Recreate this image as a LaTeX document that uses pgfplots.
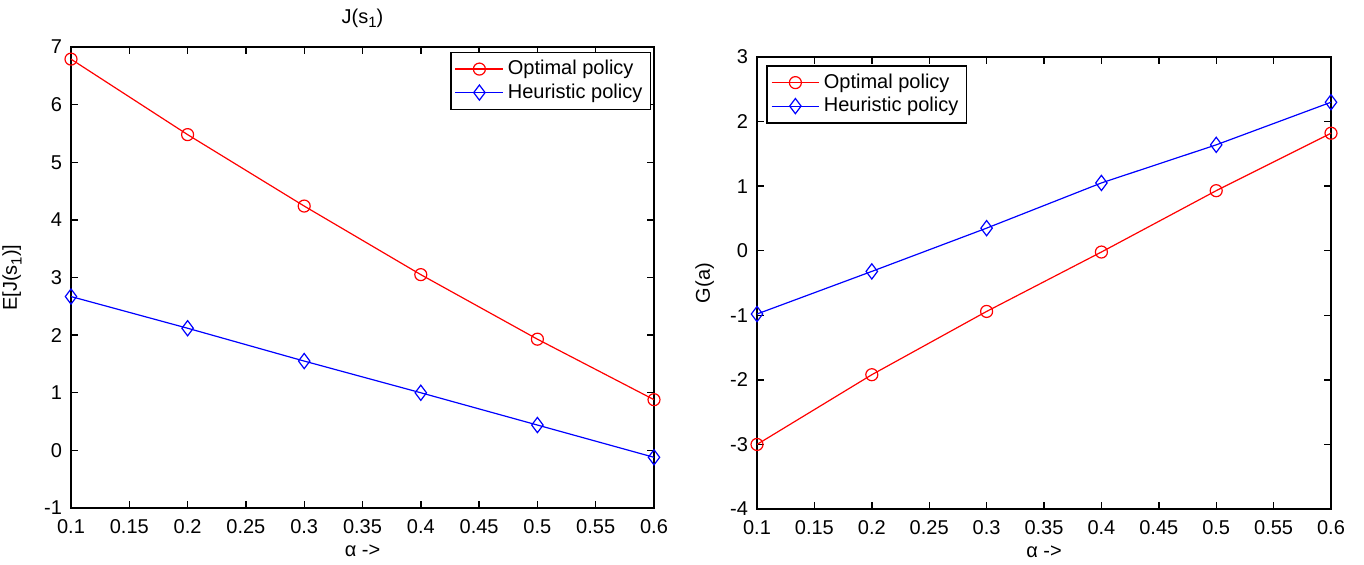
\documentclass[border=0pt]{standalone}
\usepackage{fontspec}
\setmainfont{Liberation Sans}
\usepackage{pgfplots}
\pgfplotsset{compat=1.18}

\newcommand{\sub}[1]{\raisebox{-0.45ex}{\fontsize{7.5}{8}\selectfont #1}}

\pgfplotsset{
  mstyle/.style={
    scale only axis,
    anchor=south west,
    xmin=0.1, xmax=0.6,
    xtick={0.1,0.15,...,0.6},
    tick align=inside,
    major tick length=3.5pt,
    axis line style={draw=black, line width=0.7pt},
    tick style={draw=black, line width=0.7pt},
    every tick label/.append style={font=\fontsize{10}{12}\selectfont},
    label style={font=\fontsize{10}{12}\selectfont},
    title style={font=\fontsize{10}{12}\selectfont},
    /pgf/number format/assume math mode=true,
    /pgf/number format/fixed,
    xticklabel style={/pgf/number format/precision=2, yshift=-2pt},
    yticklabel style={xshift=-1pt},
    xlabel={α ->},
    xlabel style={yshift=1pt},
    legend style={font=\fontsize{10}{12}\selectfont, draw=black, line width=0.7pt,
      inner sep=2pt, row sep=-1pt},
    legend cell align=left,
    legend image code/.code={
      \draw[mark repeat=2,mark phase=2,line width=0.6pt]
        plot coordinates {(0cm,0cm) (0.42cm,0cm) (0.84cm,0cm)};
    },
    clip=false,
  },
  opt/.style={color=red, line width=0.6pt, mark=o, mark size=3pt, mark options={line width=0.6pt}},
  heu/.style={color=blue, line width=0.6pt, mark=diamond, mark size=3.8pt, mark options={line width=0.6pt}},
}

\begin{document}
\begin{tikzpicture}
\path (0,0) rectangle (682pt,-279.5pt);

\begin{axis}[
  mstyle,
  at={(35.5pt,-254pt)},
  width=291.5pt, height=230.5pt,
  ymin=-1, ymax=7, ytick={-1,0,...,7},
  ylabel={E[J(s\sub{1})]},
  ylabel style={at={(axis description cs:-0.101,0.5)}, anchor=center, inner sep=0pt},
  title={J(s\sub{1})},
  legend style={at={(0.995,0.99)}, anchor=north east},
]
\addplot[opt] coordinates {
  (0.1,6.79) (0.2,5.48) (0.3,4.24) (0.4,3.05) (0.5,1.93) (0.6,0.88)
};
\addplot[heu] coordinates {
  (0.1,2.67) (0.2,2.12) (0.3,1.55) (0.4,1.0) (0.5,0.44) (0.6,-0.12)
};
\legend{Optimal policy, Heuristic policy}
\end{axis}

\begin{axis}[
  mstyle,
  at={(378.5pt,-254.5pt)},
  width=287pt, height=226pt,
  ymin=-4, ymax=3, ytick={-4,-3,...,3},
  ylabel={G(a)},
  ylabel style={at={(axis description cs:-0.091,0.5)}, anchor=center, inner sep=0pt},
  legend style={at={(0.016,0.982)}, anchor=north west},
]
\addplot[opt] coordinates {
  (0.1,-3.0) (0.2,-1.92) (0.3,-0.94) (0.4,-0.02) (0.5,0.93) (0.6,1.82)
};
\addplot[heu] coordinates {
  (0.1,-0.98) (0.2,-0.32) (0.3,0.35) (0.4,1.05) (0.5,1.64) (0.6,2.30)
};
\legend{Optimal policy, Heuristic policy}
\end{axis}
\end{tikzpicture}
\end{document}
